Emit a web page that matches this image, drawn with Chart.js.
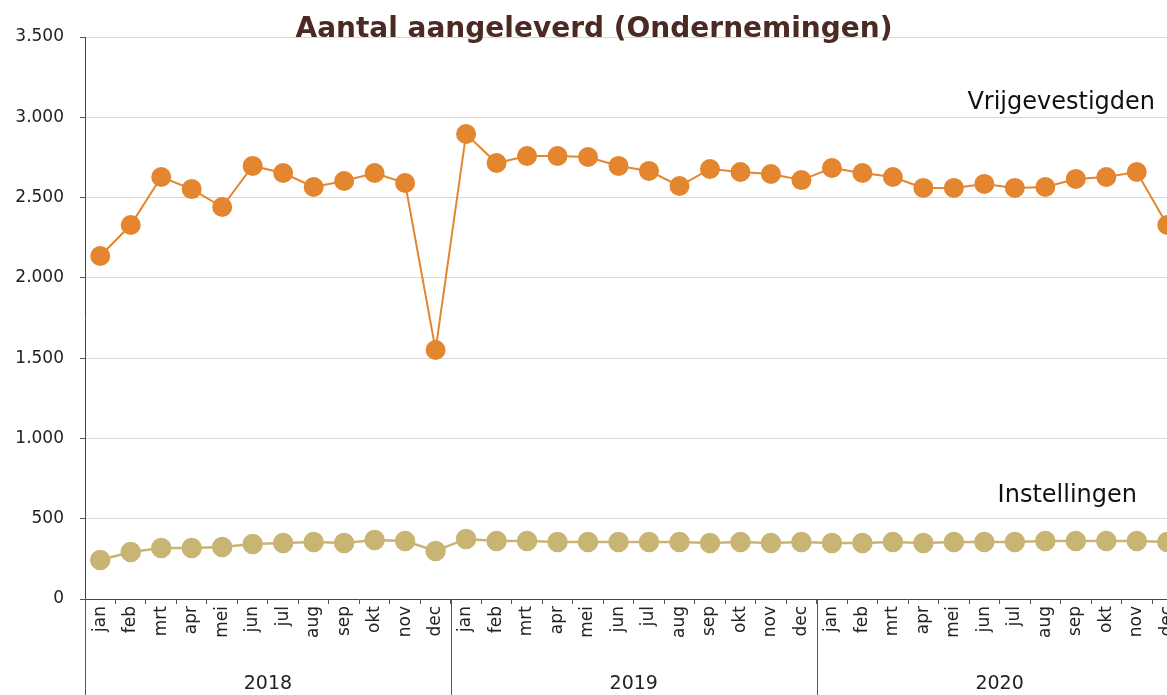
<!DOCTYPE html>
<html>
<head>
<meta charset="utf-8">
<script src="https://cdn.jsdelivr.net/npm/chart.js@4"></script>
<style>
  html, body { margin: 0; padding: 0; background: #fff; overflow: hidden; }
  #wrap { width: 1194px; height: 695px; position: relative; }
</style>
</head>
<body>
<div id="wrap"><canvas id="chart"></canvas></div>
<script>
const years = ['2018', '2019', '2020'];
const months = ['jan', 'feb', 'mrt', 'apr', 'mei', 'jun', 'jul', 'aug', 'sep', 'okt', 'nov', 'dec'];
const labels = years.flatMap(() => months);

const vrijgevestigden = [
  2136, 2329, 2628, 2553, 2441, 2697, 2653, 2566, 2603, 2653, 2591, 1551,
  2896, 2715, 2759, 2759, 2753, 2697, 2666, 2572, 2678, 2659, 2647, 2609,
  2684, 2653, 2628, 2560, 2560, 2585, 2560, 2566, 2616, 2628, 2659, 2329
];
const instellingen = [
  243, 293, 318, 318, 324, 343, 349, 355, 349, 367, 361, 299,
  374, 361, 361, 355, 355, 355, 355, 355, 349, 355, 349, 355,
  349, 349, 355, 349, 355, 355, 355, 361, 361, 361, 361, 355
];
const yTicks = [0, 500, 1000, 1500, 2000, 2500, 3000, 3500];

const FONT = '"DejaVu Sans", Lato, sans-serif';
const fmt = v => String(v).replace(/\B(?=(\d{3})+(?!\d))/g, '.');

// title, series labels, year groups
const extras = {
  id: 'extras',
  afterDraw(chart) {
    const { ctx, scales: { x, y } } = chart;
    ctx.save();
    ctx.fillStyle = '#4b2a23';
    ctx.font = 'bold 28px ' + FONT;
    ctx.textAlign = 'center';
    ctx.textBaseline = 'middle';
    ctx.fillText('Aantal aangeleverd (Ondernemingen)', 594, 30);

    ctx.fillStyle = '#111';
    ctx.font = '24px ' + FONT;
    ctx.textAlign = 'right';
    ctx.fillText('Vrijgevestigden', 1155, y.getPixelForValue(3090));
    ctx.fillText('Instellingen', 1137, y.getPixelForValue(640));

    ctx.strokeStyle = '#555';
    ctx.lineWidth = 1;
    const step = x.getPixelForValue(1) - x.getPixelForValue(0);
    for (let i = 0; i <= years.length; i++) {
      const px = Math.round(x.getPixelForValue(i * 12) - step / 2) + 0.5;
      ctx.beginPath();
      ctx.moveTo(px, y.bottom);
      ctx.lineTo(px, chart.height);
      ctx.stroke();
    }
    ctx.fillStyle = '#222';
    ctx.font = '19px ' + FONT;
    ctx.textAlign = 'center';
    years.forEach((yr, i) => {
      const mid = (x.getPixelForValue(i * 12) + x.getPixelForValue(i * 12 + 11)) / 2;
      ctx.fillText(yr, mid, 684);
    });
    ctx.restore();
  }
};

new Chart(document.getElementById('chart'), {
  type: 'line',
  data: {
    labels: labels,
    datasets: [
      {
        label: 'Vrijgevestigden',
        data: vrijgevestigden,
        borderColor: '#e3862f',
        backgroundColor: '#e3862f',
        borderWidth: 2,
        pointRadius: 9,
        pointHoverRadius: 9,
        tension: 0
      },
      {
        label: 'Instellingen',
        data: instellingen,
        borderColor: '#c8b574',
        backgroundColor: '#c8b574',
        borderWidth: 2.5,
        pointRadius: 9,
        pointHoverRadius: 9,
        tension: 0
      }
    ]
  },
  options: {
    responsive: true,
    maintainAspectRatio: false,
    animation: false,
    layout: { padding: { top: 37, right: 0, left: 0, bottom: 0 } },
    plugins: {
      legend: { display: false },
      tooltip: { enabled: false }
    },
    scales: {
      x: {
        offset: true,
        grid: {
          offset: true,
          drawOnChartArea: false,
          drawTicks: true,
          tickLength: 5,
          color: '#555'
        },
        border: { color: '#444', width: 1 },
        ticks: {
          autoSkip: false,
          minRotation: 90,
          maxRotation: 90,
          padding: 2,
          color: '#222',
          font: { family: FONT, size: 17 }
        },
        afterFit: s => { s.height = 96; }
      },
      y: {
        min: 0,
        max: 3500,
        afterBuildTicks: s => { s.ticks = yTicks.map(v => ({ value: v })); },
        grid: {
          color: '#d9d9d9',
          tickColor: '#555',
          tickLength: 5
        },
        border: { color: '#444', width: 1 },
        ticks: {
          padding: 16,
          color: '#222',
          font: { family: FONT, size: 17 },
          callback: v => fmt(v)
        },
        afterFit: s => { s.width = 85; }
      }
    }
  },
  plugins: [extras]
});
</script>
</body>
</html>
